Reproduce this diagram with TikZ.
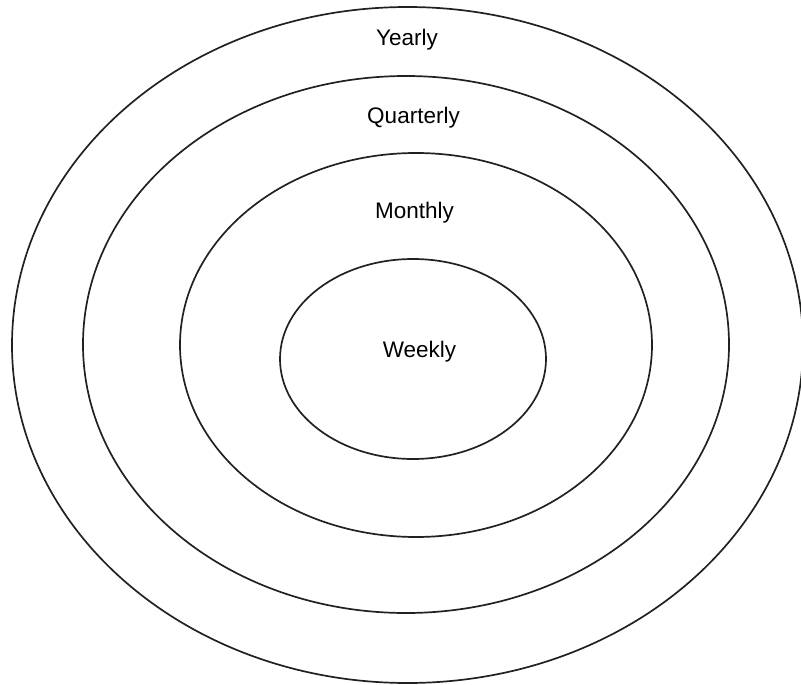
\documentclass[tikz,border=0pt]{standalone}
\usepackage{fontspec}
\setmainfont{Liberation Sans}
\usetikzlibrary{positioning}
\definecolor{ringInk}{HTML}{1E2320}

\begin{document}
\begin{tikzpicture}[x=1pt,y=-1pt,
   ring/.style={draw=ringInk,line width=1.7pt},
   period/.style={font=\fontsize{22.5}{27}\selectfont,anchor=base,inner sep=0pt}]
  \useasboundingbox (0,0) rectangle (801,685);
  % rings, outer to inner
  \draw[ring] (407.5,345) ellipse [x radius=395.5pt,y radius=338pt];
  \draw[ring] (406,344.5) ellipse [x radius=323pt,y radius=268.5pt];
  \draw[ring] (416,345) ellipse [x radius=236pt,y radius=192pt];
  \draw[ring] (413,359) ellipse [x radius=133pt,y radius=100pt];
  % labels
  \node[period] (yearly) at (407,46) {Yearly};
  \node[period] (quarterly) at (413.5,123) {Quarterly};
  \node[period] (monthly) at (414.5,218) {Monthly};
  \node[period] (weekly) at (419.5,357) {Weekly};
\end{tikzpicture}
\end{document}
